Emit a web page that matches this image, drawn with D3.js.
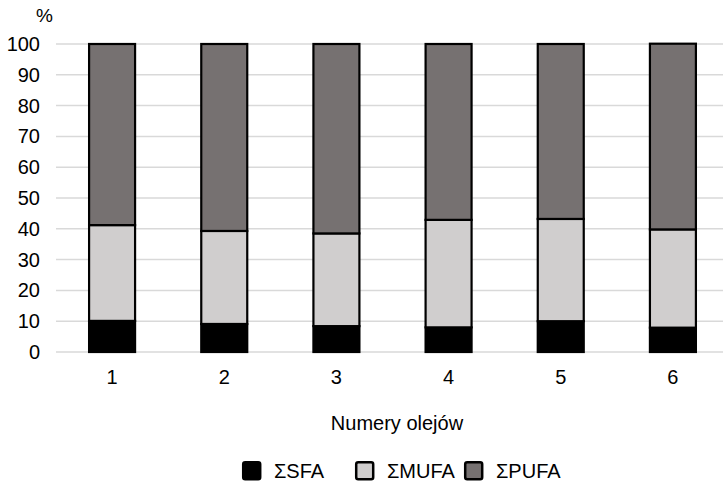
<!DOCTYPE html>
<html>
<head>
<meta charset="utf-8">
<script src="https://cdn.jsdelivr.net/npm/d3@7"></script>
<style>
  body { margin: 0; background: #fff; }
  text { font-family: "Liberation Sans", Arial, sans-serif; fill: #000; }
</style>
</head>
<body>
<div id="chart_area"></div>
<script>
var width = 723, height = 486;

var oils = ["1", "2", "3", "4", "5", "6"];
var sfa  = [10.1, 9.1, 8.4, 8.0, 10.0, 7.9];
var mufa = [31.1, 30.2, 30.1, 34.9, 33.2, 31.9];
var pufa = [58.8, 60.7, 61.5, 57.1, 56.8, 60.3];
var yTicks = [0, 10, 20, 30, 40, 50, 60, 70, 80, 90, 100];

var seriesNames = ["ΣSFA", "ΣMUFA", "ΣPUFA"];
var colours = ["#000000", "#d0cece", "#767171"];

var data = oils.map(function (d, i) {
    return { oil: d, SFA: sfa[i], MUFA: mufa[i], PUFA: pufa[i] };
});
var stack = d3.stack().keys(["SFA", "MUFA", "PUFA"])(data);

var svg = d3.select("#chart_area")
    .append("svg")
    .attr("width", width)
    .attr("height", height);

// scales
var x = d3.scaleBand()
    .domain(oils)
    .range([56, 729])
    .paddingInner(0.59)
    .paddingOuter(0.295);
var y = d3.scaleLinear()
    .domain([0, 100])
    .range([352, 44]);

// gridlines
svg.append("g")
    .selectAll("line")
    .data(yTicks)
    .enter()
    .append("line")
    .attr("x1", 56)
    .attr("x2", width)
    .attr("y1", function (d) { return y(d); })
    .attr("y2", function (d) { return y(d); })
    .attr("stroke", "#d9d9d9")
    .attr("stroke-width", 1.5);

// y axis labels
var yAxis = svg.append("g")
    .attr("transform", "translate(40,0)")
    .call(d3.axisLeft(y).tickValues(yTicks).tickSize(0).tickPadding(0));
yAxis.select(".domain").remove();
yAxis.selectAll("text")
    .style("font-size", "20px")
    .style("font-family", "Liberation Sans, Arial, sans-serif")
    .attr("fill", "#000");

svg.append("text")
    .attr("x", 36)
    .attr("y", 22)
    .style("font-size", "19px")
    .text("%");

// bars
svg.append("g")
    .selectAll("g")
    .data(stack)
    .enter()
    .append("g")
    .attr("fill", function (d, i) { return colours[i]; })
    .selectAll("rect")
    .data(function (d) { return d; })
    .enter()
    .append("rect")
    .attr("x", function (d) { return x(d.data.oil); })
    .attr("y", function (d) { return y(d[1]); })
    .attr("width", x.bandwidth())
    .attr("height", function (d) { return y(d[0]) - y(d[1]); })
    .attr("stroke", "#000")
    .attr("stroke-width", 2.2);

// x axis labels
var xAxis = svg.append("g")
    .attr("transform", "translate(0,370)")
    .call(d3.axisBottom(x).tickSize(0).tickPadding(0));
xAxis.select(".domain").remove();
xAxis.selectAll("text")
    .style("font-size", "20px")
    .style("font-family", "Liberation Sans, Arial, sans-serif")
    .attr("fill", "#000");

svg.append("text")
    .attr("x", 397)
    .attr("y", 430)
    .attr("text-anchor", "middle")
    .style("font-size", "20px")
    .text("Numery olejów");

// legend
var legendX = [242, 355, 464];
var legend = svg.append("g")
    .selectAll("g")
    .data(seriesNames)
    .enter()
    .append("g")
    .attr("transform", function (d, i) { return "translate(" + legendX[i] + ",461)"; });
legend.append("rect")
    .attr("x", 1.2)
    .attr("y", 1.2)
    .attr("width", 17)
    .attr("height", 17)
    .attr("rx", 2)
    .attr("fill", function (d, i) { return colours[i]; })
    .attr("stroke", "#000")
    .attr("stroke-width", 2.5);
legend.append("text")
    .attr("x", 32)
    .attr("y", 17)
    .style("font-size", "20px")
    .text(function (d) { return d; });
</script>
</body>
</html>
